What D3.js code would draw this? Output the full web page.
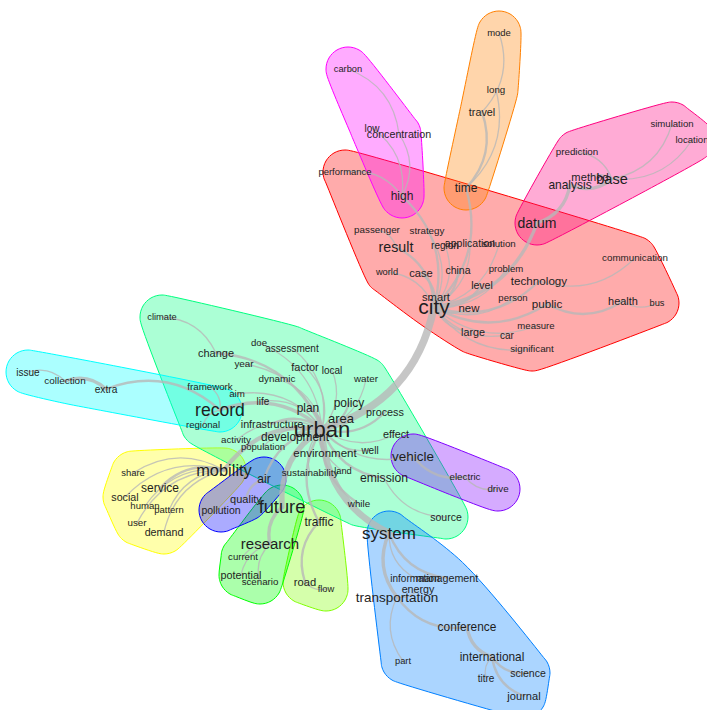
<!DOCTYPE html>
<html>
<head>
<meta charset="utf-8">
<script src="https://cdn.jsdelivr.net/npm/d3@7"></script>
<style>
  body { margin: 0; background: #fff; }
  text { font-family: "Liberation Sans", Arial, sans-serif; }
</style>
</head>
<body>
<div id="chart"></div>
<script>
var svgWidth = 707;
var svgHeight = 710;

// communities, coloured in rainbow order (hue = i / n)
var communities = ["city", "time", "mobility", "traffic", "future", "urban",
                   "record", "system", "air", "vehicle", "high", "base"];

// word, layout x, layout y, frequency, community index
var nodes = [
  ["city", 434, 307, 279, 0], ["smart", 436, 297, 70, 0], ["new", 469, 308, 75, 0],
  ["large", 473, 332, 62, 0], ["car", 507, 335, 45, 0], ["measure", 536, 326, 36, 0],
  ["significant", 532, 349, 41, 0], ["person", 513, 298, 36, 0], ["public", 547, 304, 80, 0],
  ["health", 623, 301, 66, 0], ["bus", 657, 303, 30, 0], ["technology", 539, 281, 80, 0],
  ["level", 482, 285, 56, 0], ["problem", 506, 269, 36, 0], ["china", 458, 270, 56, 0],
  ["case", 421, 273, 70, 0], ["world", 387, 272, 30, 0], ["result", 396, 247, 135, 0],
  ["passenger", 377, 230, 41, 0], ["strategy", 427, 231, 41, 0], ["region", 445, 245, 45, 0],
  ["application", 470, 243, 56, 0], ["solution", 499, 244, 39, 0],
  ["communication", 635, 258, 41, 0], ["performance", 345, 172, 34, 0],

  ["mode", 499, 33, 34, 1], ["long", 496, 90, 39, 1], ["travel", 482, 112, 62, 1],
  ["time", 466, 188, 87, 1],

  ["mobility", 224, 470, 181, 2], ["share", 133, 473, 34, 2], ["service", 160, 488, 87, 2],
  ["social", 125, 497, 60, 2], ["human", 145, 506, 36, 2], ["pattern", 169, 510, 34, 2],
  ["user", 137, 523, 41, 2], ["demand", 164, 532, 60, 2],

  ["traffic", 319, 522, 87, 3], ["road", 305, 582, 70, 3], ["flow", 326, 589, 32, 3],

  ["future", 282, 507, 221, 4], ["research", 270, 544, 151, 4], ["current", 243, 557, 36, 4],
  ["potential", 241, 575, 62, 4], ["scenario", 260, 582, 39, 4],

  ["urban", 322, 429, 300, 5], ["climate", 162, 317, 30, 5], ["change", 216, 353, 66, 5],
  ["doe", 259, 343, 36, 5], ["assessment", 292, 348, 45, 5], ["year", 244, 364, 41, 5],
  ["factor", 305, 367, 66, 5], ["local", 332, 370, 45, 5], ["dynamic", 277, 379, 43, 5],
  ["water", 366, 379, 41, 5], ["framework", 210, 387, 39, 5], ["aim", 237, 394, 39, 5],
  ["life", 263, 401, 45, 5], ["plan", 308, 408, 85, 5], ["policy", 349, 403, 87, 5],
  ["area", 341, 418, 109, 5], ["process", 385, 412, 62, 5], ["infrastructure", 272, 424, 60, 5],
  ["development", 295, 437, 85, 5], ["activity", 236, 440, 41, 5], ["population", 263, 447, 36, 5],
  ["environment", 325, 453, 77, 5], ["well", 370, 450, 45, 5], ["effect", 396, 434, 62, 5],
  ["sustainability", 310, 473, 43, 5], ["land", 343, 471, 30, 5], ["emission", 384, 478, 92, 5],
  ["while", 359, 504, 41, 5], ["source", 446, 517, 56, 5], ["regional", 203, 425, 36, 5],

  ["record", 220, 410, 206, 6], ["issue", 28, 372, 45, 6], ["collection", 65, 381, 43, 6],
  ["extra", 106, 389, 49, 6],

  ["system", 389, 533, 194, 7], ["transportation", 397, 597, 119, 7],
  ["information", 415, 578, 45, 7], ["management", 447, 578, 60, 7], ["energy", 418, 589, 60, 7],
  ["conference", 467, 627, 85, 7], ["international", 492, 657, 85, 7], ["titre", 486, 678, 45, 7],
  ["science", 528, 673, 56, 7], ["journal", 524, 696, 68, 7], ["part", 403, 661, 30, 7],

  ["air", 264, 479, 87, 8], ["quality", 246, 499, 66, 8], ["pollution", 221, 510, 56, 8],

  ["vehicle", 413, 456, 119, 9], ["electric", 465, 477, 41, 9], ["drive", 498, 489, 41, 9],

  ["high", 402, 196, 87, 10], ["carbon", 348, 69, 30, 10], ["low", 372, 128, 45, 10],
  ["concentration", 399, 134, 60, 10],

  ["base", 612, 179, 141, 11], ["analysis", 570, 185, 87, 11], ["method", 590, 177, 70, 11],
  ["prediction", 577, 152, 41, 11], ["simulation", 672, 124, 36, 11], ["location", 692, 140, 36, 11],
  ["datum", 537, 223, 130, 11]
];

// co-occurrence links: from, to, strength
var edges = [
  ["urban", "city", 7], ["urban", "system", 6], ["urban", "future", 5], ["urban", "mobility", 4],
  ["urban", "record", 3], ["urban", "development", 3], ["urban", "area", 2], ["urban", "plan", 2],
  ["urban", "policy", 2], ["urban", "process", 2], ["urban", "environment", 2],
  ["urban", "infrastructure", 2], ["urban", "emission", 2], ["urban", "effect", 1],
  ["urban", "well", 1], ["urban", "land", 1], ["urban", "while", 2], ["urban", "sustainability", 1],
  ["urban", "population", 1], ["urban", "activity", 1], ["urban", "life", 1], ["urban", "dynamic", 1],
  ["urban", "factor", 1], ["urban", "local", 1], ["urban", "water", 1], ["urban", "assessment", 1],
  ["urban", "doe", 1], ["urban", "year", 1], ["urban", "change", 2], ["change", "climate", 1],
  ["urban", "aim", 1], ["record", "framework", 1], ["record", "extra", 2], ["extra", "collection", 3],
  ["collection", "issue", 1], ["record", "regional", 1], ["urban", "air", 2], ["air", "quality", 2],
  ["quality", "pollution", 1], ["mobility", "share", 1], ["mobility", "service", 2],
  ["mobility", "social", 1], ["mobility", "human", 1], ["mobility", "pattern", 1],
  ["mobility", "user", 1], ["mobility", "demand", 1], ["future", "research", 3],
  ["research", "current", 1], ["research", "potential", 1], ["research", "scenario", 1],
  ["urban", "traffic", 2], ["traffic", "road", 2], ["road", "flow", 1], ["urban", "vehicle", 1],
  ["vehicle", "electric", 2], ["electric", "drive", 1], ["emission", "source", 1],
  ["system", "transportation", 3], ["system", "information", 1], ["system", "management", 2],
  ["transportation", "energy", 1], ["transportation", "conference", 2],
  ["conference", "international", 3], ["international", "titre", 1], ["international", "science", 2],
  ["international", "journal", 2], ["transportation", "part", 1],
  ["city", "smart", 2], ["city", "new", 2], ["city", "large", 1], ["city", "car", 1],
  ["city", "measure", 1], ["city", "significant", 1], ["city", "person", 1], ["city", "public", 2],
  ["public", "health", 2], ["health", "bus", 1], ["city", "technology", 2], ["city", "level", 2],
  ["city", "problem", 1], ["city", "china", 2], ["city", "case", 2], ["city", "world", 1],
  ["city", "result", 2], ["result", "passenger", 1], ["city", "strategy", 1], ["city", "region", 1],
  ["city", "application", 1], ["city", "solution", 1], ["technology", "communication", 1],
  ["city", "high", 2], ["high", "concentration", 1], ["concentration", "carbon", 1],
  ["high", "low", 1], ["high", "performance", 1], ["city", "time", 2], ["time", "travel", 2],
  ["travel", "mode", 1], ["time", "long", 1], ["city", "datum", 3], ["datum", "analysis", 3],
  ["analysis", "base", 3], ["base", "method", 1], ["base", "prediction", 1],
  ["base", "simulation", 1], ["base", "location", 1]
];

var svg = d3.select("#chart")
  .append("svg")
  .attr("width", svgWidth)
  .attr("height", svgHeight);

// layout space -> page
var xScale = d3.scaleLinear().domain([0, 707]).range([0, svgWidth]);
var yScale = d3.scaleLinear().domain([0, 710]).range([0, svgHeight]);
var fontScale = d3.scaleLinear().domain([30, 300]).range([9.3, 22]);
var widthScale = d3.scaleLinear().domain([1, 7]).range([1.3, 7.5]);
var colorOf = function(i) { return d3.hsl(i * 360 / communities.length, 1, 0.5).toString(); };

var byName = {};
nodes.forEach(function(d) { byName[d[0]] = d; });

// community hulls, drawn round each vertex with a padding
var pad = 22;
var hullLine = d3.line().curve(d3.curveCatmullRomClosed.alpha(0.5));
var hullGroup = svg.append("g");
communities.forEach(function(c, i) {
  var pts = [];
  nodes.filter(function(d) { return d[4] === i; }).forEach(function(d) {
    for (var k = 0; k < 24; k++) {
      var a = k / 24 * 2 * Math.PI;
      pts.push([xScale(d[1]) + pad * Math.cos(a), yScale(d[2]) + pad * Math.sin(a)]);
    }
  });
  var hull = d3.polygonHull(pts);
  hullGroup.append("path")
    .attr("d", hullLine(hull))
    .attr("fill", colorOf(i))
    .attr("fill-opacity", 0.33)
    .attr("stroke", colorOf(i))
    .attr("stroke-width", 1);
});

// curved edges
function edgePath(e) {
  var s = byName[e[0]], t = byName[e[1]];
  var x1 = xScale(s[1]), y1 = yScale(s[2]), x2 = xScale(t[1]), y2 = yScale(t[2]);
  var dx = x2 - x1, dy = y2 - y1;
  var cx = (x1 + x2) / 2 - dy * 0.3, cy = (y1 + y2) / 2 + dx * 0.3;
  return "M" + x1 + "," + y1 + "Q" + cx + "," + cy + " " + x2 + "," + y2;
}

svg.append("g")
  .selectAll("path")
  .data(edges)
  .enter()
  .append("path")
  .attr("d", edgePath)
  .attr("fill", "none")
  .attr("stroke", "#b8b8b8")
  .attr("stroke-opacity", 0.8)
  .attr("stroke-linecap", "round")
  .attr("stroke-width", function(e) { return widthScale(e[2]); });

// word labels
svg.append("g")
  .selectAll("text")
  .data(nodes)
  .enter()
  .append("text")
  .attr("x", function(d) { return xScale(d[1]); })
  .attr("y", function(d) { return yScale(d[2]); })
  .attr("dy", "0.35em")
  .attr("text-anchor", "middle")
  .attr("font-size", function(d) { return fontScale(d[3]) + "px"; })
  .attr("fill", "#1e1e1e")
  .text(function(d) { return d[0]; });
</script>
</body>
</html>
